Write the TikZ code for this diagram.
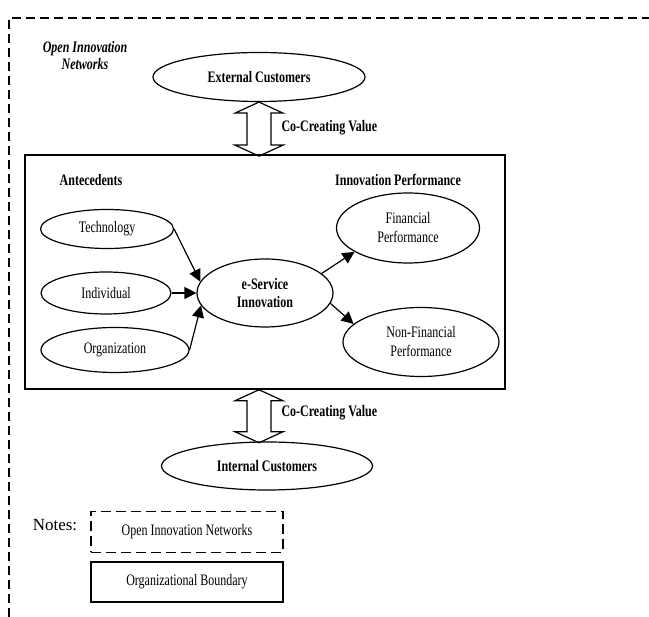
\documentclass[tikz,border=0pt]{standalone}
\usepackage{fontspec}
\setmainfont{Liberation Serif}
\newfontfamily\tallserif[FakeStretch=0.75]{Liberation Serif}
\usetikzlibrary{shapes.geometric,arrows.meta}

\tikzset{
  oval/.style = {draw, ellipse, line width=1.2pt, inner sep=0pt, align=center,
                 font=\tallserif\fontsize{16}{19}\selectfont},
  boldoval/.style = {oval, font=\tallserif\fontsize{16}{18}\selectfont\bfseries},
  link/.style = {line width=1.2pt, -{Triangle[length=12pt,width=12pt]}},
  cocreate/.style = {draw, line width=1.2pt, line join=miter},
  notebox/.style = {draw, line width=1.2pt, minimum width=192pt, minimum height=41pt,
                    font=\tallserif\fontsize{16}{18}\selectfont},
  heading/.style = {font=\tallserif\fontsize{16}{18}\selectfont\bfseries}
}

\begin{document}
\begin{tikzpicture}[x=1pt, y=-1pt]
\useasboundingbox (0,0) rectangle (649,617);
\draw [line width=1.3pt, dash pattern=on 9pt off 5pt] (9,617) |- (649,18);
\node [align=center, font=\tallserif\fontsize{16}{17}\selectfont\bfseries\itshape] (oin) at (85,56) {Open Innovation\\Networks};

\node [boldoval, minimum width=212pt, minimum height=49pt] (ext) at (259,77) {External Customers};
\node [draw, line width=1.5pt, minimum width=480pt, minimum height=234pt, inner sep=0pt] (boundary) at (265,272) {};
\draw [cocreate] (ext.south) -- ++(24,11) -- ++(-12,0) -- ++(0,32) -- ++(12,0) -- ++(-24,11)
  -- ++(-24,-11) -- ++(12,0) -- ++(0,-32) -- ++(-12,0) -- cycle;
\node [heading, anchor=west] (cv1) at (278,128) {Co-Creating Value};

\node [heading] (ante) at (91,180) {Antecedents};
\node [heading] (perf) at (398,180) {Innovation Performance};

\node [oval, minimum width=133pt, minimum height=39pt] (tech) at (107,229) {Technology};
\node [oval, minimum width=130pt, minimum height=42pt] (indiv) at (106,293) {Individual};
\node [oval, minimum width=148pt, minimum height=45pt] (orgn) at (115,350) {Organization};
\node [boldoval, minimum width=136pt, minimum height=68pt] (eserv) at (265,293) {e-Service\\Innovation};
\node [oval, minimum width=143pt, minimum height=70pt] (fin) at (408,228) {Financial\\Performance};
\node [oval, minimum width=156pt, minimum height=69pt] (nonfin) at (421,342) {Non-Financial\\Performance};

\draw [link] (tech.east) -- (eserv.170);
\draw [link] (indiv.east) -- (eserv.west);
\draw [link] (orgn.east) -- (eserv.191);
\draw [link] (eserv.19) -- (fin.204);
\draw [link] (eserv.-9) -- (nonfin.165);

\node [boldoval, minimum width=211pt, minimum height=48pt] (int) at (267,466) {Internal Customers};
\draw [cocreate] (ext.south |- boundary.south) -- ++(24,11) -- ++(-12,0) -- ++(0,31) -- ++(12,0) -- ++(-24,11)
  -- ++(-24,-11) -- ++(12,0) -- ++(0,-31) -- ++(-12,0) -- cycle;
\node [heading, anchor=west] (cv2) at (278,413) {Co-Creating Value};

\node [font=\fontsize{17}{19}\selectfont] (notes) at (55,525) {Notes:};
\node [notebox, dash pattern=on 10pt off 5pt] (oinkey) at (187,532) {Open Innovation Networks};
\node [notebox, minimum height=40pt] (obkey) at (187,582) {Organizational Boundary};
\end{tikzpicture}
\end{document}
